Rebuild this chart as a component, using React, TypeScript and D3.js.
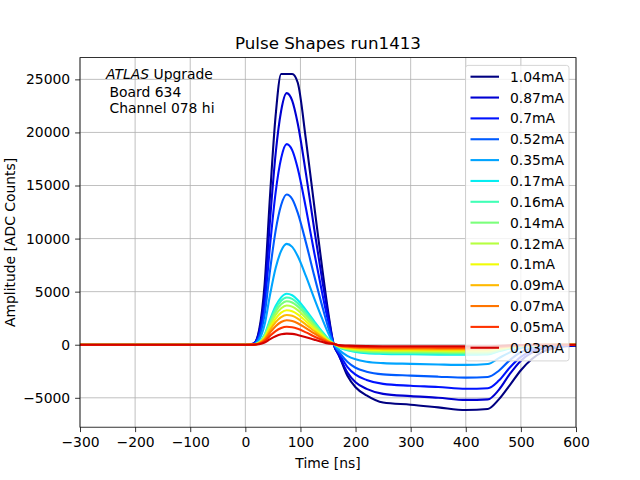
import React, { useEffect, useRef } from "react";
import {
  axisBottom,
  axisLeft,
  curveMonotoneX,
  format,
  line,
  scaleLinear,
  select,
} from "d3";

// sample times [ns]
const times = [
  -300, 0, 15, 25, 35, 45, 55, 65, 75, 85, 95, 110, 125, 140, 150, 160, 170,
  185, 200, 220, 250, 300, 350, 400, 440, 460, 480, 500, 520, 540, 570, 600,
];

const labels = [
  "1.04mA", "0.87mA", "0.7mA", "0.52mA", "0.35mA", "0.17mA", "0.16mA",
  "0.14mA", "0.12mA", "0.1mA", "0.09mA", "0.07mA", "0.05mA", "0.03mA",
];

// amplitudes [ADC counts], one array per injected current
const amp104 = [0, 0, 100, 1400, 5700, 14200, 21600, 25500, 25500, 25500, 24700, 19300, 13100, 7000, 3200, 100, -1000, -2900, -4000, -4780, -5450, -5650, -5900, -6150, -6050, -5150, -3800, -2400, -1350, -650, -220, -80];
const amp087 = [0, 0, 120, 1190, 4740, 11850, 18010, 22040, 23700, 22990, 20860, 16120, 10900, 5930, 2840, 100, -1040, -2600, -3540, -4160, -4630, -4840, -4990, -5200, -5150, -4250, -2750, -1500, -750, -350, -120, -50];
const amp070 = [0, 0, 95, 945, 3780, 9450, 14360, 17580, 18900, 18330, 16630, 12850, 8690, 4730, 2270, 100, -830, -2080, -2820, -3320, -3690, -3860, -3980, -4150, -4100, -3380, -2150, -1150, -550, -270, -90, -40];
const amp052 = [0, 0, 70, 710, 2830, 7080, 10750, 13160, 14150, 13730, 12450, 9620, 6510, 3540, 1700, 100, -680, -1610, -2170, -2540, -2790, -2910, -3010, -3100, -3040, -2450, -1450, -700, -300, -130, -40, 0];
const amp035 = [0, 0, 50, 475, 1900, 4750, 7220, 8840, 9500, 9220, 8360, 6460, 4370, 2380, 1140, 100, -475, -1045, -1370, -1600, -1730, -1800, -1860, -1900, -1820, -1260, -720, -300, -120, -55, -20, 0];
const amp017 = [0, 0, 25, 240, 960, 2400, 3650, 4460, 4800, 4660, 4220, 3260, 2210, 1200, 580, 100, -240, -520, -680, -800, -860, -900, -930, -950, -920, -620, -350, -140, -60, -30, -10, 0];
const amp016 = [0, 0, 20, 220, 890, 2230, 3380, 4140, 4450, 4320, 3920, 3030, 2050, 1110, 530, 100, -210, -470, -610, -710, -770, -810, -830, -850, -820, -550, -310, -130, -50, -25, -10, 0];
const amp014 = [0, 0, 20, 205, 820, 2050, 3120, 3810, 4100, 3980, 3610, 2790, 1890, 1030, 490, 100, -190, -410, -540, -630, -680, -710, -735, -750, -730, -490, -280, -110, -45, -20, -10, 0];
const amp012 = [0, 0, 20, 185, 740, 1850, 2810, 3440, 3700, 3590, 3260, 2520, 1700, 930, 440, 100, -160, -360, -470, -550, -590, -620, -640, -650, -630, -420, -240, -100, -40, -20, -5, 0];
const amp010 = [0, 0, 15, 160, 650, 1630, 2470, 3020, 3250, 3150, 2860, 2210, 1500, 810, 390, 100, -140, -300, -400, -460, -500, -520, -540, -550, -530, -360, -200, -80, -35, -15, -5, 0];
const amp009 = [0, 0, 15, 140, 560, 1400, 2130, 2600, 2800, 2720, 2460, 1900, 1290, 700, 340, 100, -110, -250, -320, -380, -410, -430, -440, -450, -440, -290, -170, -70, -30, -15, -5, 0];
const amp007 = [0, 0, 10, 115, 460, 1150, 1750, 2140, 2300, 2230, 2020, 1560, 1060, 580, 280, 100, -90, -190, -250, -290, -320, -330, -340, -350, -340, -230, -130, -50, -20, -10, 0, 0];
const amp005 = [0, 0, 10, 85, 340, 850, 1290, 1580, 1700, 1650, 1500, 1160, 780, 430, 200, 100, -60, -140, -180, -210, -230, -240, -245, -250, -240, -160, -90, -40, -15, -5, 0, 0];
const amp003 = [0, 0, 5, 50, 210, 530, 800, 980, 1050, 1020, 920, 710, 480, 260, 130, 80, -40, -80, -110, -130, -140, -145, -148, -150, -145, -100, -55, -25, -10, -5, 0, 0];

const series = [amp104, amp087, amp070, amp052, amp035, amp017, amp016, amp014, amp012, amp010, amp009, amp007, amp005, amp003];

const xTicks = [-300, -200, -100, 0, 100, 200, 300, 400, 500, 600];
const yTicks = [-5000, 0, 5000, 10000, 15000, 20000, 25000];

// matplotlib "jet"
const jetR = scaleLinear<number>().domain([0, 0.35, 0.66, 0.89, 1]).range([0, 0, 1, 1, 0.5]).clamp(true);
const jetG = scaleLinear<number>().domain([0, 0.125, 0.375, 0.64, 0.91, 1]).range([0, 0, 1, 1, 0, 0]).clamp(true);
const jetB = scaleLinear<number>().domain([0, 0.11, 0.34, 0.65, 1]).range([0.5, 1, 1, 0, 0]).clamp(true);
const jet = (t: number) =>
  `rgb(${Math.round(jetR(t) * 255)},${Math.round(jetG(t) * 255)},${Math.round(jetB(t) * 255)})`;

const FONT = "DejaVu Sans, sans-serif";

export default function App() {
  const svgRef = useRef(null);
  const W = 640;
  const H = 480;
  const margin = { top: 57.6, right: 64, bottom: 52.8, left: 80 };

  useEffect(() => {
    const svg = select(svgRef.current);
    svg.selectAll("*").remove();
    const w = W - margin.left - margin.right;
    const h = H - margin.top - margin.bottom;

    const x = scaleLinear().domain([-300, 600]).range([0, w]);
    const y = scaleLinear().domain([-7770, 27050]).range([h, 0]);

    svg.append("rect").attr("width", W).attr("height", H).attr("fill", "white");

    const g = svg
      .append("g")
      .attr("transform", `translate(${margin.left}, ${margin.top})`);

    // grid
    g.append("g")
      .selectAll("line")
      .data(xTicks)
      .enter()
      .append("line")
      .attr("x1", (d) => x(d))
      .attr("x2", (d) => x(d))
      .attr("y1", 0)
      .attr("y2", h)
      .attr("stroke", "#b0b0b0")
      .attr("stroke-width", 0.8);
    g.append("g")
      .selectAll("line")
      .data(yTicks)
      .enter()
      .append("line")
      .attr("x1", 0)
      .attr("x2", w)
      .attr("y1", (d) => y(d))
      .attr("y2", (d) => y(d))
      .attr("stroke", "#b0b0b0")
      .attr("stroke-width", 0.8);

    g.append("clipPath")
      .attr("id", "plotclip")
      .append("rect")
      .attr("width", w)
      .attr("height", h);

    const lineGen = line<number>()
      .x((_, i) => x(times[i]))
      .y((d) => y(d))
      .curve(curveMonotoneX);

    g.append("g")
      .attr("clip-path", "url(#plotclip)")
      .selectAll("path")
      .data(series)
      .enter()
      .append("path")
      .attr("d", (d) => lineGen(d))
      .attr("fill", "none")
      .attr("stroke", (_, i) => jet(i / 14))
      .attr("stroke-width", 2.1)
      .attr("stroke-linejoin", "round");

    // axes
    const xAxis = g
      .append("g")
      .attr("transform", `translate(0, ${h})`)
      .call(
        axisBottom(x)
          .tickValues(xTicks)
          .tickFormat(format("d"))
          .tickSize(4.9)
          .tickPadding(4.9)
      );
    const yAxis = g
      .append("g")
      .call(
        axisLeft(y)
          .tickValues(yTicks)
          .tickFormat(format("d"))
          .tickSize(4.9)
          .tickPadding(4.9)
      );
    [xAxis, yAxis].forEach((a) => {
      a.select(".domain").remove();
      a.selectAll("line").attr("stroke", "black").attr("stroke-width", 0.8);
      a.selectAll("text")
        .attr("font-family", FONT)
        .attr("font-size", 13.9)
        .attr("fill", "black");
    });

    // frame
    g.append("rect")
      .attr("width", w)
      .attr("height", h)
      .attr("fill", "none")
      .attr("stroke", "black")
      .attr("stroke-width", 0.8);

    // annotation
    const note = g
      .append("text")
      .attr("font-family", FONT)
      .attr("font-size", 13.9)
      .attr("fill", "black");
    const first = note.append("tspan").attr("x", 26).attr("y", 21);
    first.append("tspan").attr("font-style", "italic").text("ATLAS");
    first.append("tspan").text(" Upgrade");
    note.append("tspan").attr("x", 29.5).attr("y", 39).text("Board 634");
    note.append("tspan").attr("x", 29.5).attr("y", 55.2).text("Channel 078 hi");

    // legend
    const lg = g.append("g").attr("transform", `translate(${w - 110.5}, 7.8)`);
    lg.append("rect")
      .attr("width", 103.5)
      .attr("height", 295.5)
      .attr("rx", 2.5)
      .attr("fill", "white")
      .attr("fill-opacity", 0.8)
      .attr("stroke", "#cccccc")
      .attr("stroke-width", 0.8);
    const rows = lg
      .selectAll("g.row")
      .data(labels)
      .enter()
      .append("g")
      .attr("class", "row")
      .attr("transform", (_, i) => `translate(0, ${11.3 + i * 20.85})`);
    rows
      .append("line")
      .attr("x1", 5)
      .attr("x2", 33.5)
      .attr("stroke", (_, i) => jet(i / 14))
      .attr("stroke-width", 2.1);
    rows
      .append("text")
      .attr("x", 44.5)
      .attr("y", 5)
      .attr("font-family", FONT)
      .attr("font-size", 13.9)
      .attr("fill", "black")
      .text((d) => d);

    // titles
    svg
      .append("text")
      .attr("x", margin.left + w / 2)
      .attr("y", 49)
      .attr("text-anchor", "middle")
      .attr("font-family", FONT)
      .attr("font-size", 16.7)
      .text("Pulse Shapes run1413");
    svg
      .append("text")
      .attr("x", margin.left + w / 2)
      .attr("y", 468)
      .attr("text-anchor", "middle")
      .attr("font-family", FONT)
      .attr("font-size", 13.9)
      .text("Time [ns]");
    svg
      .append("text")
      .attr("transform", `translate(15, ${margin.top + h / 2}) rotate(-90)`)
      .attr("text-anchor", "middle")
      .attr("font-family", FONT)
      .attr("font-size", 13.9)
      .text("Amplitude [ADC Counts]");
  }, []);

  return (
    <svg
      ref={svgRef}
      width={W}
      height={H}
      style={{ position: "absolute", left: 0, top: 0 }}
    />
  );
}
